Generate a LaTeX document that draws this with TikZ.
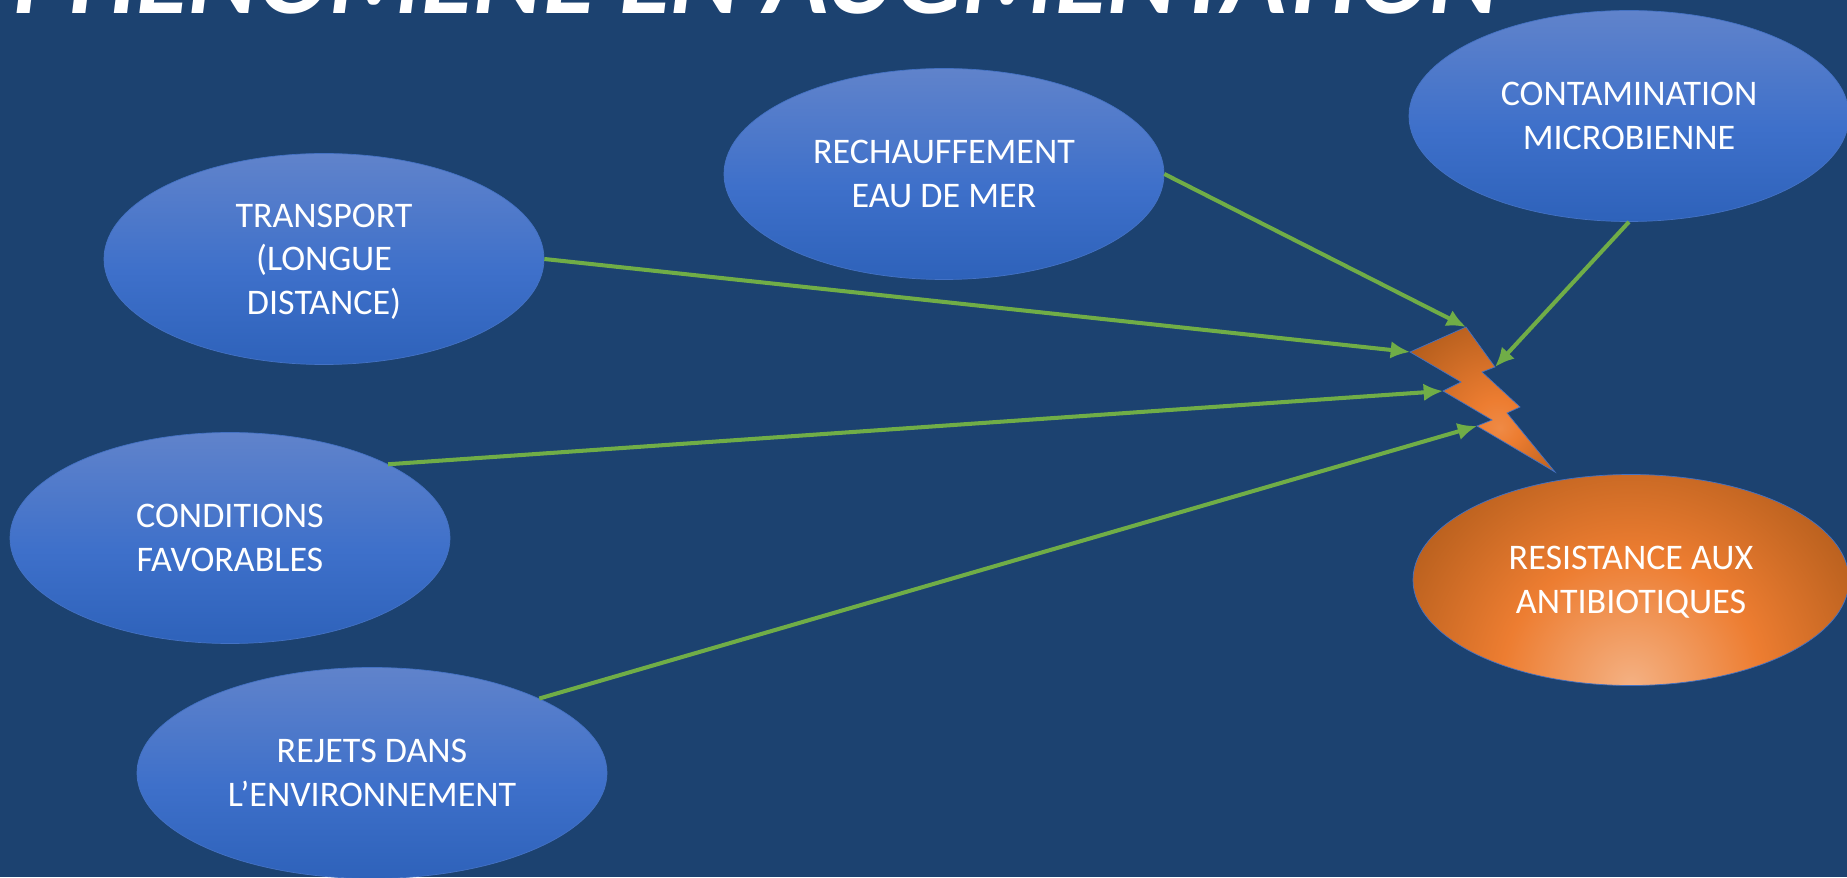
\documentclass[tikz,border=0pt]{standalone}
\usepackage{fontspec}
\setmainfont{Carlito}
\usetikzlibrary{positioning,shapes.geometric,arrows.meta}
\definecolor{slide}{HTML}{1C4270}
\definecolor{rim}{HTML}{4472C4}
\definecolor{link}{HTML}{70AD47}
\definecolor{bltop}{HTML}{6083CB}
\definecolor{blmid}{HTML}{3E70CA}
\definecolor{blbot}{HTML}{2E62BA}
\definecolor{dkor}{HTML}{AE5A1A}
\definecolor{midor}{HTML}{ED7D31}
\definecolor{ltor}{HTML}{F4B183}
\pgfdeclareverticalshading{causefill}{100bp}{color(0bp)=(blbot); color(25bp)=(blbot); color(47bp)=(blmid); color(75bp)=(bltop); color(100bp)=(bltop)}
\pgfdeclareradialshading{effectfill}{\pgfpoint{0bp}{0bp}}{color(0bp)=(ltor); color(12.5bp)=(midor); color(27bp)=(dkor); color(50bp)=(dkor)}
\pgfdeclareradialshading{boltfill}{\pgfpoint{6bp}{-10bp}}{color(0bp)=(midor!90!white); color(8bp)=(midor); color(36bp)=(dkor); color(50bp)=(dkor)}
\begin{document}
\begin{tikzpicture}[auto ,on grid ,
blob/.style ={ ellipse ,draw=rim ,text=white ,inner sep=0pt ,
  minimum width =8.8cm ,minimum height =4.22cm ,align=center ,
  font=\fontsize{20.5}{24.8}\selectfont ,text depth=-4pt},
cause/.style ={ blob ,shade ,shading=causefill},
link/.style ={ -{Latex[length=11pt,width=10pt]} ,color=link ,line width=2.3pt}]
\clip (0,0) rectangle (36.94,17.54);
\fill[slide] (0,0) rectangle (36.94,17.54);
\node[anchor=base west ,inner sep=0pt ,text=white ,font=\fontsize{60.4}{60.4}\selectfont\bfseries\itshape] (title) at (0.26,17.26) {PHENOMENE EN AUGMENTATION};
\node[cause ,text depth=0pt] (T) at (6.48,12.36) {TRANSPORT\\(LONGUE\\DISTANCE)};
\node[cause] (R) [above right = 1.7cm and 12.4cm of T] {RECHAUFFEMENT\\EAU DE MER};
\node[cause] (C) [above right = 1.16cm and 13.7cm of R] {CONTAMINATION\\MICROBIENNE};
\node[cause] (F) [below left = 5.58cm and 1.88cm of T] {CONDITIONS\\FAVORABLES};
\node[cause ,minimum width =9.4cm ,text depth=0pt] (E) [below right = 4.7cm and 2.84cm of F] {REJETS DANS\\L’ENVIRONNEMENT};
\node[blob ,minimum width =8.72cm ,text depth=-3pt ,path picture={\shade[shading=effectfill] (path picture bounding box.south) circle (5.2cm);}] (A) [below right = 9.28cm and 0.04cm of C] {RESISTANCE AUX\\ANTIBIOTIQUES};
% bolt corners
\coordinate (b1) at (29.32,11.00);
\coordinate (b2) at (29.90,10.20);
\coordinate (b3) at (29.64,10.10);
\coordinate (b4) at (30.40,9.40);
\coordinate (b5) at (30.14,9.28);
\coordinate (b6) at (31.10,8.10);
\coordinate (b7) at (29.54,9.02);
\coordinate (b8) at (29.84,9.14);
\coordinate (b9) at (28.86,9.72);
\coordinate (b10) at (29.22,9.90);
\coordinate (b11) at (28.20,10.50);
\path[shade ,shading=boltfill ,draw=rim ,thin] (b1) -- (b2) -- (b3) -- (b4) -- (b5) -- (b6) -- (b7) -- (b8) -- (b9) -- (b10) -- (b11) -- cycle;
\draw[link] (T.east) -- (b11);
\draw[link] (R.east) -- (b1);
\draw[link] (C.south) -- (b2);
\draw[link] (F.25.5) -- (b9);
\draw[link] (E.24) -- (b7);
\end{tikzpicture}
\end{document}
